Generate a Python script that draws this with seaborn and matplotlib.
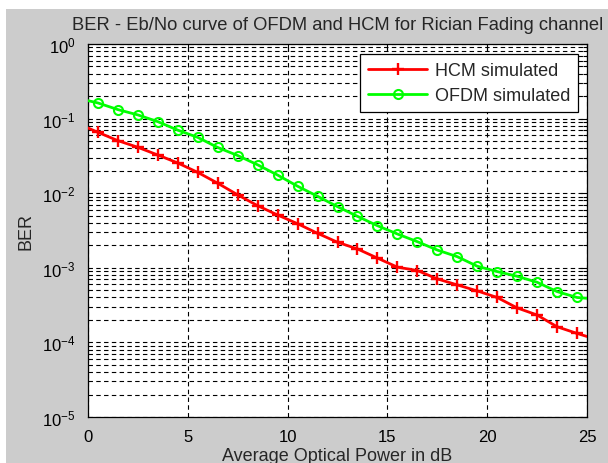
import numpy as np
import pandas as pd
import matplotlib
matplotlib.use("Agg")
import matplotlib.pyplot as plt
import seaborn as sns
from matplotlib.patches import Rectangle
from matplotlib.ticker import LogLocator, LogFormatterMathtext, NullFormatter

# ------------------------------
# Data
# ------------------------------
power_db = [0, 0.5, 1.5, 2.5, 3.5, 4.5, 5.5, 6.5, 7.5, 8.5, 9.5, 10.5, 11.5, 12.5,
            13.5, 14.5, 15.5, 16.5, 17.5, 18.5, 19.5, 20.5, 21.5, 22.5, 23.5, 24.5, 25]

ber_hcm = [0.0748, 0.0655, 0.0506, 0.0412, 0.0325, 0.0254, 0.0190, 0.0136, 0.0095,
           0.0068, 0.0051, 0.0039, 0.0029, 0.0022, 0.00179, 0.00135, 0.00102,
           0.00092, 0.00071, 0.00059, 0.00049, 0.00040, 0.00029, 0.000233,
           0.000162, 0.000132, 0.000120]

ber_ofdm = [0.174, 0.162, 0.132, 0.112, 0.091, 0.070, 0.056, 0.041, 0.032, 0.024,
            0.0175, 0.0124, 0.0091, 0.0066, 0.0049, 0.00367, 0.00284, 0.00224,
            0.00173, 0.00141, 0.00105, 0.00089, 0.00077, 0.00064, 0.00048,
            0.00040, 0.00039]

series_names = ["HCM simulated", "OFDM simulated"]

df = pd.DataFrame({
    "power": power_db * 2,
    "ber": ber_hcm + ber_ofdm,
    "curve": [series_names[0]] * len(power_db) + [series_names[1]] * len(power_db),
})

# ------------------------------
# Style
# ------------------------------
sns.set_style("white")
plt.rcParams['font.family'] = ['Liberation Sans', 'DejaVu Sans']
plt.rcParams['mathtext.fontset'] = 'custom'
plt.rcParams['mathtext.rm'] = 'Liberation Sans'
plt.rcParams['mathtext.default'] = 'regular'

fig = plt.figure(figsize=(6.08, 4.64), dpi=100, facecolor='white')
fig.patches.append(Rectangle((6 / 608, 0), 1, 1 - 10 / 464, transform=fig.transFigure,
                             facecolor='#cccccc', edgecolor='none', zorder=-10))
ax = fig.add_axes([88 / 608, 1 - 418 / 464, 499 / 608, 373 / 464])
ax.set_facecolor('white')

red = (1, 0, 0)
green = (0, 1, 0)
marks = list(range(1, len(power_db) - 1))
sns.lineplot(data=df[df.curve == series_names[0]], x="power", y="ber", ax=ax,
             color=red, lw=2, marker='+', markersize=8, mew=1.7, mec=red,
             markevery=marks, label=series_names[0], zorder=3)
sns.lineplot(data=df[df.curve == series_names[1]], x="power", y="ber", ax=ax,
             color=green, lw=2, marker='o', markersize=6.5, mew=1.5, mec=green,
             mfc='none', markevery=marks, label=series_names[1], zorder=3)

ax.set_yscale('log')
ax.set_xlim(0, 25)
ax.set_ylim(1e-5, 1)
ax.set_xticks([0, 5, 10, 15, 20, 25])
ax.yaxis.set_major_locator(LogLocator(base=10, numticks=10))
ax.yaxis.set_major_formatter(LogFormatterMathtext())
ax.yaxis.set_minor_locator(LogLocator(base=10, subs=np.arange(2, 10), numticks=10))
ax.yaxis.set_minor_formatter(NullFormatter())

grid_style = dict(color='black', linestyle=(0, (4, 3)), linewidth=0.8)
ax.grid(True, which='major', axis='both', **grid_style)
ax.grid(True, which='minor', axis='y', **grid_style)

ax.tick_params(which='both', direction='in', top=True, right=True,
               labelsize=12, colors='black', width=0.8)
ax.tick_params(which='major', length=5, pad=9)
ax.tick_params(which='minor', length=3)
for s in ax.spines.values():
    s.set_color('black')
    s.set_linewidth(0.9)

ax.set_title("BER - Eb/No curve of OFDM and HCM for Rician Fading channel",
             fontsize=13.2, pad=11)
ax.set_xlabel("Average Optical Power in dB", fontsize=13)
ax.set_ylabel("BER", fontsize=13)
ax.xaxis.set_label_coords(0.5, -0.080)
ax.xaxis.label.set_va('top')
ax.yaxis.set_label_coords(-0.108, 0.5)

leg = ax.legend(loc='upper right', bbox_to_anchor=(0.982, 0.973), borderaxespad=0,
                fontsize=13, frameon=True, fancybox=False, framealpha=1,
                edgecolor='black', handlelength=3.3, handletextpad=0.4,
                labelspacing=0.45, borderpad=0.45)
leg.get_frame().set_linewidth(0.9)

fig.savefig("out.png", dpi=100, facecolor=fig.get_facecolor())
